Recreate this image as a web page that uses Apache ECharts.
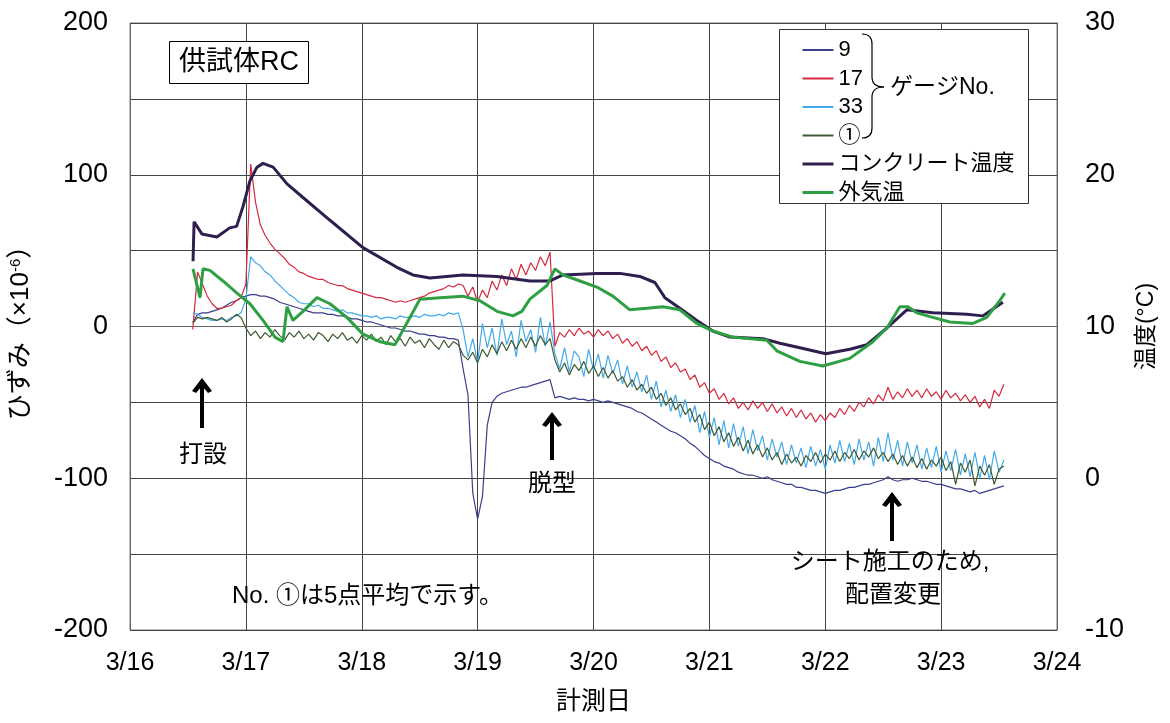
<!DOCTYPE html>
<html><head><meta charset="utf-8">
<script src="https://cdn.jsdelivr.net/npm/echarts@6/dist/echarts.min.js"></script>
<style>html,body{margin:0;padding:0;background:#fff}#c{width:1170px;height:723px}</style>
</head><body><div id="c"></div><script>
// ---- tick labels ----
const dayTickLabels = ['3/16','3/17','3/18','3/19','3/20','3/21','3/22','3/23','3/24'];
const seriesNames = ['9','17','33','①','コンクリート温度','外気温'];

// ---- strain gauges: hourly samples from 3/16 13:00 ----
const strainStartDay = 16 + 13/24;
const strainStepDay = 1/24;
const gauge9 = [3,8,9,9,10,11,12,14,16,17,
 19,20,21,21,20,20,19,18,16,15,
 14,13,12,11,10,9,9,9,8,8,
 7,7,6,5,5,4,3,3,2,1,
 0,-1,-1,-2,-3,-3,-4,-5,-5,-6,
 -6,-7,-7,-8,-8,-9,-28,-45,-110,-127,
 -112,-65,-50,-46,-44,-43,-42,-41,-40,-40,
 -39,-38,-37,-36,-35,-47,-46,-47,-48,-47,
 -48,-48,-49,-48,-49,-50,-49,-50,-51,-52,
 -53,-54,-56,-57,-59,-61,-63,-65,-67,-69,
 -70,-72,-74,-77,-79,-82,-85,-87,-89,-90,
 -92,-93,-94,-96,-97,-98,-98,-99,-100,-99,
 -101,-102,-103,-104,-104,-106,-106,-107,-108,-108,
 -109,-110,-109,-108,-108,-107,-106,-106,-105,-104,
 -104,-103,-102,-101,-99,-101,-102,-101,-101,-100,
 -101,-102,-102,-103,-104,-104,-105,-106,-107,-107,
 -108,-109,-108,-110,-109,-108,-107,-106,-105];
const gauge17 = [-2,36,28,20,15,12,12,13,14,17,
 19,28,107,82,67,60,55,51,48,45,
 41,39,36,35,33,32,31,31,29,28,
 27,27,25,24,23,22,21,20,19,19,
 18,17,16,17,16,17,18,19,20,22,
 23,24,25,27,26,28,27,20,26,16,
 24,19,30,24,34,27,38,31,41,34,
 42,37,46,40,49,-13,-4,-7,-2,-6,
 -1,-5,-3,-7,-2,-6,-3,-8,-5,-11,
 -8,-13,-10,-16,-13,-19,-16,-23,-20,-27,
 -24,-30,-28,-35,-32,-40,-37,-44,-41,-48,
 -44,-51,-47,-54,-50,-55,-49,-54,-50,-56,
 -51,-57,-53,-59,-54,-60,-55,-61,-57,-63,
 -58,-62,-57,-60,-54,-58,-52,-56,-50,-53,
 -47,-51,-45,-49,-40,-48,-43,-47,-41,-46,
 -42,-47,-41,-46,-43,-48,-42,-47,-44,-49,
 -45,-50,-46,-53,-48,-54,-42,-46,-38];
const gauge33 = [9,8,6,5,4,4,5,4,6,7,
 9,18,46,42,40,36,34,30,27,24,
 21,19,16,15,15,13,14,12,12,11,
 10,11,9,9,8,7,7,6,7,5,
 6,6,5,7,6,6,7,6,8,7,
 7,8,7,9,8,9,-2,-20,-8,-24,
 2,-14,-1,-19,5,-12,-3,-20,4,-10,
 -2,-17,6,-13,3,-18,-28,-14,-30,-16,
 -20,-33,-15,-29,-18,-34,-19,-31,-22,-38,
 -26,-40,-30,-43,-32,-48,-36,-53,-42,-56,
 -45,-60,-48,-63,-52,-70,-56,-73,-60,-78,
 -62,-80,-64,-79,-66,-84,-68,-82,-72,-88,
 -74,-86,-76,-91,-78,-90,-80,-93,-79,-92,
 -81,-94,-78,-90,-75,-89,-77,-91,-74,-88,
 -76,-92,-73,-89,-70,-88,-75,-92,-76,-90,
 -78,-94,-80,-93,-79,-96,-82,-95,-81,-98,
 -84,-99,-83,-100,-85,-101,-82,-96,-88];
const gauge1avg = [2,6,5,6,5,4,6,3,5,8,
 6,-1,-6,-3,-8,-4,-7,-2,-6,-9,
 -4,-7,-3,-8,-5,-9,-4,-6,-10,-5,
 -8,-4,-9,-7,-11,-6,-9,-5,-10,-7,
 -12,-6,-10,-8,-13,-7,-11,-9,-14,-8,
 -12,-15,-9,-14,-10,-12,-19,-22,-17,-24,
 -15,-20,-12,-18,-10,-16,-9,-15,-8,-14,
 -7,-13,-6,-12,-8,-22,-30,-24,-32,-25,
 -29,-23,-31,-26,-33,-27,-34,-29,-36,-33,
 -40,-35,-42,-38,-44,-40,-48,-44,-52,-47,
 -55,-51,-58,-54,-63,-58,-68,-63,-72,-66,
 -76,-70,-79,-73,-82,-75,-84,-78,-86,-80,
 -88,-83,-91,-84,-90,-86,-92,-85,-89,-83,
 -90,-84,-88,-82,-89,-83,-87,-81,-88,-82,
 -86,-80,-87,-83,-89,-84,-91,-85,-92,-86,
 -93,-87,-94,-88,-92,-86,-95,-89,-104,-90,
 -96,-88,-105,-92,-98,-91,-104,-94,-92];

// ---- temperatures (day of March, °C) ----
const concreteDays = [16.544,16.553,16.570,16.620,16.750,16.860,16.920,16.975,17.035,17.096,
 17.148,17.235,17.355,17.493,17.726,18.010,18.303,18.441,18.588,18.873,
 19.167,19.451,19.624,19.736,20.029,20.228,20.400,20.530,20.616,20.745,
 20.892,21.030,21.177,21.462,21.608,21.781,22.005,22.212,22.359,22.532,
 22.704,22.928,23.222,23.360,23.533];
const concreteTemp = [14.3,16.9,16.9,16.1,15.9,16.5,16.6,17.9,19.6,20.5,
 20.75,20.5,19.4,18.5,17.0,15.2,13.9,13.4,13.2,13.4,
 13.3,13.0,13.0,13.4,13.5,13.5,13.3,12.9,11.9,11.2,
 10.4,9.7,9.3,9.2,8.9,8.6,8.2,8.5,8.8,9.9,
 11.1,10.9,10.8,10.7,11.6];
const airDays = [16.544,16.604,16.630,16.690,16.802,16.923,17.035,17.148,17.251,17.320,
 17.355,17.406,17.493,17.613,17.726,17.872,18.010,18.157,18.286,18.373,
 18.502,18.675,18.873,19.020,19.167,19.305,19.382,19.451,19.598,19.667,
 19.736,19.883,20.029,20.167,20.314,20.461,20.599,20.745,20.892,21.030,
 21.203,21.496,21.582,21.781,21.979,22.212,22.411,22.532,22.644,22.713,
 22.790,22.928,23.075,23.274,23.394,23.506,23.549];
const airTemp = [13.8,11.9,13.8,13.7,13.0,12.2,11.5,10.4,9.3,9.0,
 11.3,10.4,11.0,11.9,11.5,10.6,9.5,9.0,8.8,10.0,
 11.8,11.9,12.0,11.7,11.0,10.7,11.0,11.8,12.7,13.8,
 13.4,13.0,12.6,12.0,11.1,11.2,11.3,11.1,10.2,9.7,
 9.3,9.1,8.4,7.7,7.4,7.9,9.0,9.9,11.3,11.3,
 10.9,10.6,10.3,10.2,10.6,11.7,12.2];

const FONT = "'Liberation Sans','Noto Sans CJK JP',sans-serif";
const strainPairs = arr => arr.map((v, i) => [strainStartDay + i * strainStepDay, v]);
const zipPairs = (xs, ys) => xs.map((x, i) => [x, ys[i]]);

const chart = echarts.init(document.getElementById('c'), null, {renderer: 'canvas'});

function seg(x1, y1, x2, y2, w) {
  return {type: 'line', z: 50, shape: {x1: x1, y1: y1, x2: x2, y2: y2}, style: {stroke: '#000', lineWidth: w}};
}
function curve(x1, y1, cx, cy, x2, y2) {
  return {type: 'bezierCurve', z: 50, shape: {x1: x1, y1: y1, cpx1: cx, cpy1: cy, x2: x2, y2: y2}, style: {stroke: '#000', lineWidth: 1.2, fill: null}};
}
function arrow(x, top, bottom) {
  return [
    seg(x, top + 2, x, bottom, 4),
    {type: 'polygon', z: 50, shape: {points: [[x, top], [x - 10, top + 13], [x - 6, top + 15], [x, top + 8], [x + 6, top + 15], [x + 10, top + 13]]}, style: {fill: '#000'}}
  ];
}
function label(text, x, y, size, align) {
  return {type: 'text', z: 50, x: x, y: y, style: {text: text, fontSize: size, fontFamily: FONT, fill: '#000', align: align || 'center', verticalAlign: 'middle'}};
}

const lineSeries = (name, data, color, width, yAxisIndex) => ({
  name: name, type: 'line', data: data, yAxisIndex: yAxisIndex, showSymbol: false, symbol: 'none',
  lineStyle: {color: color, width: width}, itemStyle: {color: color}, animation: false, silent: true
});

chart.setOption({
  animation: false,
  backgroundColor: '#fff',
  textStyle: {fontFamily: FONT},
  grid: {left: 130, right: 113, top: 23, bottom: 93, show: true, borderColor: '#777', borderWidth: 1, backgroundColor: 'transparent'},
  legend: {
    left: 796, top: 34, orient: 'vertical', itemWidth: 31, itemHeight: 14, itemGap: 6.5,
    selectedMode: false, z: 60,
    itemStyle: {opacity: 0},
    textStyle: {fontSize: 22, color: '#000', fontFamily: FONT},
    data: [
      {name: seriesNames[0]},
      {name: seriesNames[1]},
      {name: seriesNames[2]},
      {name: seriesNames[3]},
      {name: seriesNames[4], lineStyle: {width: 3}},
      {name: seriesNames[5], lineStyle: {width: 3}}
    ]
  },
  xAxis: {
    type: 'value', min: 16, max: 24, interval: 1,
    name: '計測日', nameLocation: 'middle', nameGap: 60,
    nameTextStyle: {fontSize: 25, color: '#000', fontFamily: FONT},
    axisLine: {show: true, lineStyle: {color: '#666'}},
    axisTick: {show: false},
    axisLabel: {margin: 21, fontSize: 25, color: '#000', fontFamily: FONT,
      formatter: v => dayTickLabels[Math.round(v - 16)]},
    splitLine: {show: true, lineStyle: {color: '#444', width: 1}}
  },
  yAxis: [{
    type: 'value', min: -200, max: 200, interval: 50, position: 'left',
    name: 'ひずみ（×10{sup|-6}）', nameLocation: 'middle', nameGap: 96, nameRotate: 90,
    nameTextStyle: {fontSize: 26, color: '#000', fontFamily: FONT,
      rich: {sup: {fontSize: 15, verticalAlign: 'top', color: '#000', fontFamily: FONT}}},
    axisLine: {show: true, lineStyle: {color: '#666'}},
    axisTick: {show: false},
    axisLabel: {margin: 22, fontSize: 27, color: '#000', fontFamily: FONT,
      formatter: v => (v % 100 === 0 ? String(v) : '')},
    splitLine: {show: true, lineStyle: {color: '#444', width: 1}}
  }, {
    type: 'value', min: -10, max: 30, interval: 10, position: 'right',
    name: '温度(°C)', nameLocation: 'middle', nameGap: 62, nameRotate: 90,
    nameTextStyle: {fontSize: 23, color: '#000', fontFamily: FONT},
    axisLine: {show: true, lineStyle: {color: '#666'}},
    axisTick: {show: false},
    axisLabel: {margin: 28, fontSize: 27, color: '#000', fontFamily: FONT},
    splitLine: {show: false}
  }],
  series: [
    lineSeries(seriesNames[0], strainPairs(gauge9), '#3b3f8c', 1.2, 0),
    lineSeries(seriesNames[1], strainPairs(gauge17), '#d42a3f', 1.2, 0),
    lineSeries(seriesNames[2], strainPairs(gauge33), '#45aaea', 1.2, 0),
    lineSeries(seriesNames[3], strainPairs(gauge1avg), '#3f5a30', 1.2, 0),
    lineSeries(seriesNames[4], zipPairs(concreteDays, concreteTemp), '#2e1f4f', 3, 1),
    lineSeries(seriesNames[5], zipPairs(airDays, airTemp), '#2ea043', 3, 1)
  ],
  graphic: {elements: [
    {type: 'rect', z: 40, shape: {x: 169.5, y: 41.5, width: 139, height: 42}, style: {fill: '#fff', stroke: '#000', lineWidth: 1}},
    label('供試体RC', 239, 63, 27),
    {type: 'rect', z: 40, shape: {x: 779.5, y: 29.5, width: 249, height: 174}, style: {fill: '#fff', stroke: '#333', lineWidth: 1}},
    curve(862, 34, 872, 34, 872, 44),
    seg(872, 44, 872, 77, 1.2),
    curve(872, 77, 872, 87, 884, 87),
    curve(884, 87, 872, 87, 872, 97),
    seg(872, 97, 872, 128, 1.2),
    curve(872, 128, 872, 138, 862, 138),
    label('ゲージNo.', 890, 88, 23, 'left'),
    ...arrow(202, 378, 428),
    label('打設', 203, 455, 24),
    ...arrow(552, 412, 460),
    label('脱型', 552, 484, 24),
    ...arrow(892, 492, 541),
    label('シート施工のため,', 890, 562, 24),
    label('配置変更', 893, 595, 24),
    label('No. ①は5点平均で示す。', 232, 596, 24, 'left')
  ]}
});
</script></body></html>
